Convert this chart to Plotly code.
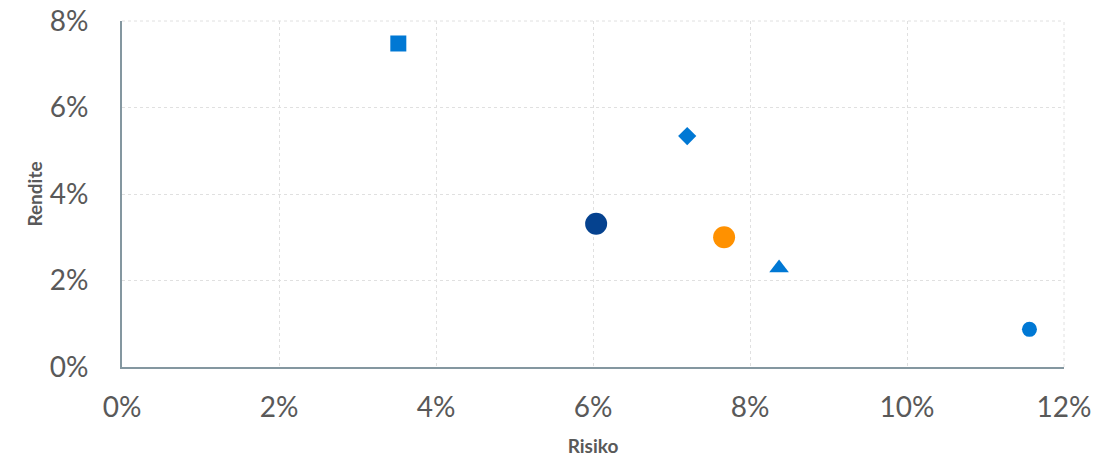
import plotly.graph_objects as go

names = ["A", "B", "C", "D", "E", "F"]
risk = [3.52, 7.20, 6.04, 7.67, 8.37, 11.56]
ret = [7.48, 5.34, 3.31, 3.00, 2.29, 0.87]
symbols = ["square", "diamond", "circle", "circle", "triangle-up", "circle"]
colors = ["#0078d4", "#0078d4", "#05428f", "#ff9100", "#0078d4", "#0078d4"]
sizes = [16, 14, 22, 22, 17, 15]

xticks = [0, 2, 4, 6, 8, 10, 12]
yticks = [0, 2, 4, 6, 8]

fig = go.Figure()
for i in range(len(names)):
    fig.add_trace(go.Scatter(
        x=[risk[i]], y=[ret[i]], mode="markers", name=names[i],
        marker=dict(symbol=symbols[i], color=colors[i], size=sizes[i], line=dict(width=0)),
        showlegend=False,
    ))

font = "Lato, 'DejaVu Sans', sans-serif"
fig.update_layout(
    width=1100, height=458,
    margin=dict(l=122, r=36, t=21, b=91, autoexpand=False),
    paper_bgcolor="white", plot_bgcolor="white",
    font=dict(family=font, color="#595959"),
    xaxis=dict(
        range=[0, 12], tickvals=xticks, ticktext=[f"{v}%" for v in xticks],
        showgrid=True, gridcolor="#e0e0e0", griddash="dot", gridwidth=1,
        showline=True, linecolor="#8497a0", linewidth=2,
        zeroline=False, ticks="", tickfont=dict(size=28, color="#595959"),
        ticklabelstandoff=14, automargin=False,
        title=dict(text="<b>Risiko</b>", font=dict(size=19, color="#595959"), standoff=18),
    ),
    yaxis=dict(
        range=[0, 8], tickvals=yticks, ticktext=[f"{v}%" for v in yticks],
        showgrid=True, gridcolor="#e0e0e0", griddash="dot", gridwidth=1,
        showline=True, linecolor="#8497a0", linewidth=2,
        zeroline=False, ticks="", tickfont=dict(size=28, color="#595959"),
        ticklabelstandoff=26, automargin=False,
        title=dict(text="<b>Rendite</b>", font=dict(size=19, color="#595959"), standoff=2),
    ),
)
# dotted border on top and right
fig.add_shape(type="line", xref="paper", yref="paper", x0=0, x1=1, y0=1, y1=1,
              line=dict(color="#e0e0e0", width=1, dash="dot"))
fig.add_shape(type="line", xref="paper", yref="paper", x0=1, x1=1, y0=0, y1=1,
              line=dict(color="#e0e0e0", width=1, dash="dot"))

fig.write_html("out.html")
